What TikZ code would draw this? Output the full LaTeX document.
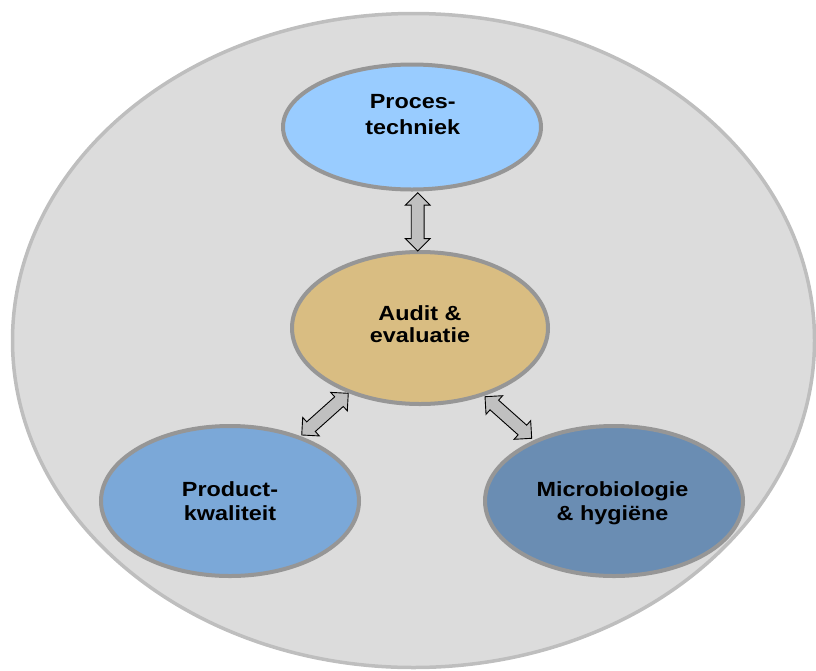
\documentclass[tikz,border=0pt]{standalone}
\usepackage{fontspec}
\setmainfont{Liberation Sans}[FakeStretch=1.14]
\usetikzlibrary{shapes.geometric,shapes.arrows,calc}
\definecolor{bgfill}{HTML}{DCDCDC}
\definecolor{bgline}{HTML}{BEBEBE}
\definecolor{elline}{HTML}{969696}
\definecolor{procfill}{HTML}{99CCFF}
\definecolor{auditfill}{HTML}{D9BD82}
\definecolor{prodfill}{HTML}{7BA8D8}
\definecolor{microfill}{HTML}{6A8DB3}
\definecolor{arrfill}{HTML}{C0C0C0}
\tikzset{
  outerell/.style={ellipse, draw=bgline, fill=bgfill, line width=3.5pt, inner sep=0pt},
  topic/.style={ellipse, draw=elline, line width=4pt, inner sep=0pt},
  topictext/.style={inner sep=0pt, align=center, text=black,
    font=\fontsize{20.5}{#1}\selectfont\bfseries},
  dblarrow/.style={double arrow, draw=black, fill=arrfill, line width=0.9pt,
    inner xsep=0pt, inner ysep=6pt, double arrow head extend=6pt,
    double arrow tip angle=90}
}
\begin{document}
\begin{tikzpicture}[x=1pt,y=-1pt]
\useasboundingbox (0,0) rectangle (816,670);
\node[outerell, minimum width=802pt, minimum height=654pt] (outer) at (413.5,340.5) {};
\node[topic, fill=procfill, minimum width=258pt, minimum height=125pt] (proc) at (412,127) {};
\node[topic, fill=auditfill, minimum width=256pt, minimum height=152pt] (audit) at (420,328) {};
\node[topic, fill=prodfill, minimum width=258pt, minimum height=150pt] (prod) at (230,501) {};
\node[topic, fill=microfill, minimum width=258pt, minimum height=150pt] (micro) at (614,501) {};
\node[topictext=26] (procT) at (412.7,114.7) {Proces-\\techniek};
\node[topictext=22] (auditT) at (420,323.9) {Audit \&\\evaluatie};
\node[topictext=24] (prodT) at (230,501) {Product-\\kwaliteit};
\node[topictext=24] (microT) at (612.5,503.3) {Microbiologie\\\& hygiëne};
% arrow end points
\coordinate (pA) at (417.7,192.7);
\coordinate (pB) at (417.7,251);
\coordinate (lA) at (348.3,393.3);
\coordinate (lB) at (301.7,435);
\coordinate (rA) at (485,396.7);
\coordinate (rB) at (531.7,438.3);
\path let \p1=(pA), \p2=(pB), \n1={atan2(\y2-\y1,\x2-\x1)}, \n2={veclen(\x2-\x1,\y2-\y1)} in
  node[dblarrow, minimum height=\n2, rotate=\n1] (arrP) at ($(pA)!0.5!(pB)$) {};
\path let \p1=(lA), \p2=(lB), \n1={atan2(\y2-\y1,\x2-\x1)}, \n2={veclen(\x2-\x1,\y2-\y1)} in
  node[dblarrow, minimum height=\n2, rotate=\n1] (arrL) at ($(lA)!0.5!(lB)$) {};
\path let \p1=(rA), \p2=(rB), \n1={atan2(\y2-\y1,\x2-\x1)}, \n2={veclen(\x2-\x1,\y2-\y1)} in
  node[dblarrow, minimum height=\n2, rotate=\n1] (arrR) at ($(rA)!0.5!(rB)$) {};
\end{tikzpicture}
\end{document}
